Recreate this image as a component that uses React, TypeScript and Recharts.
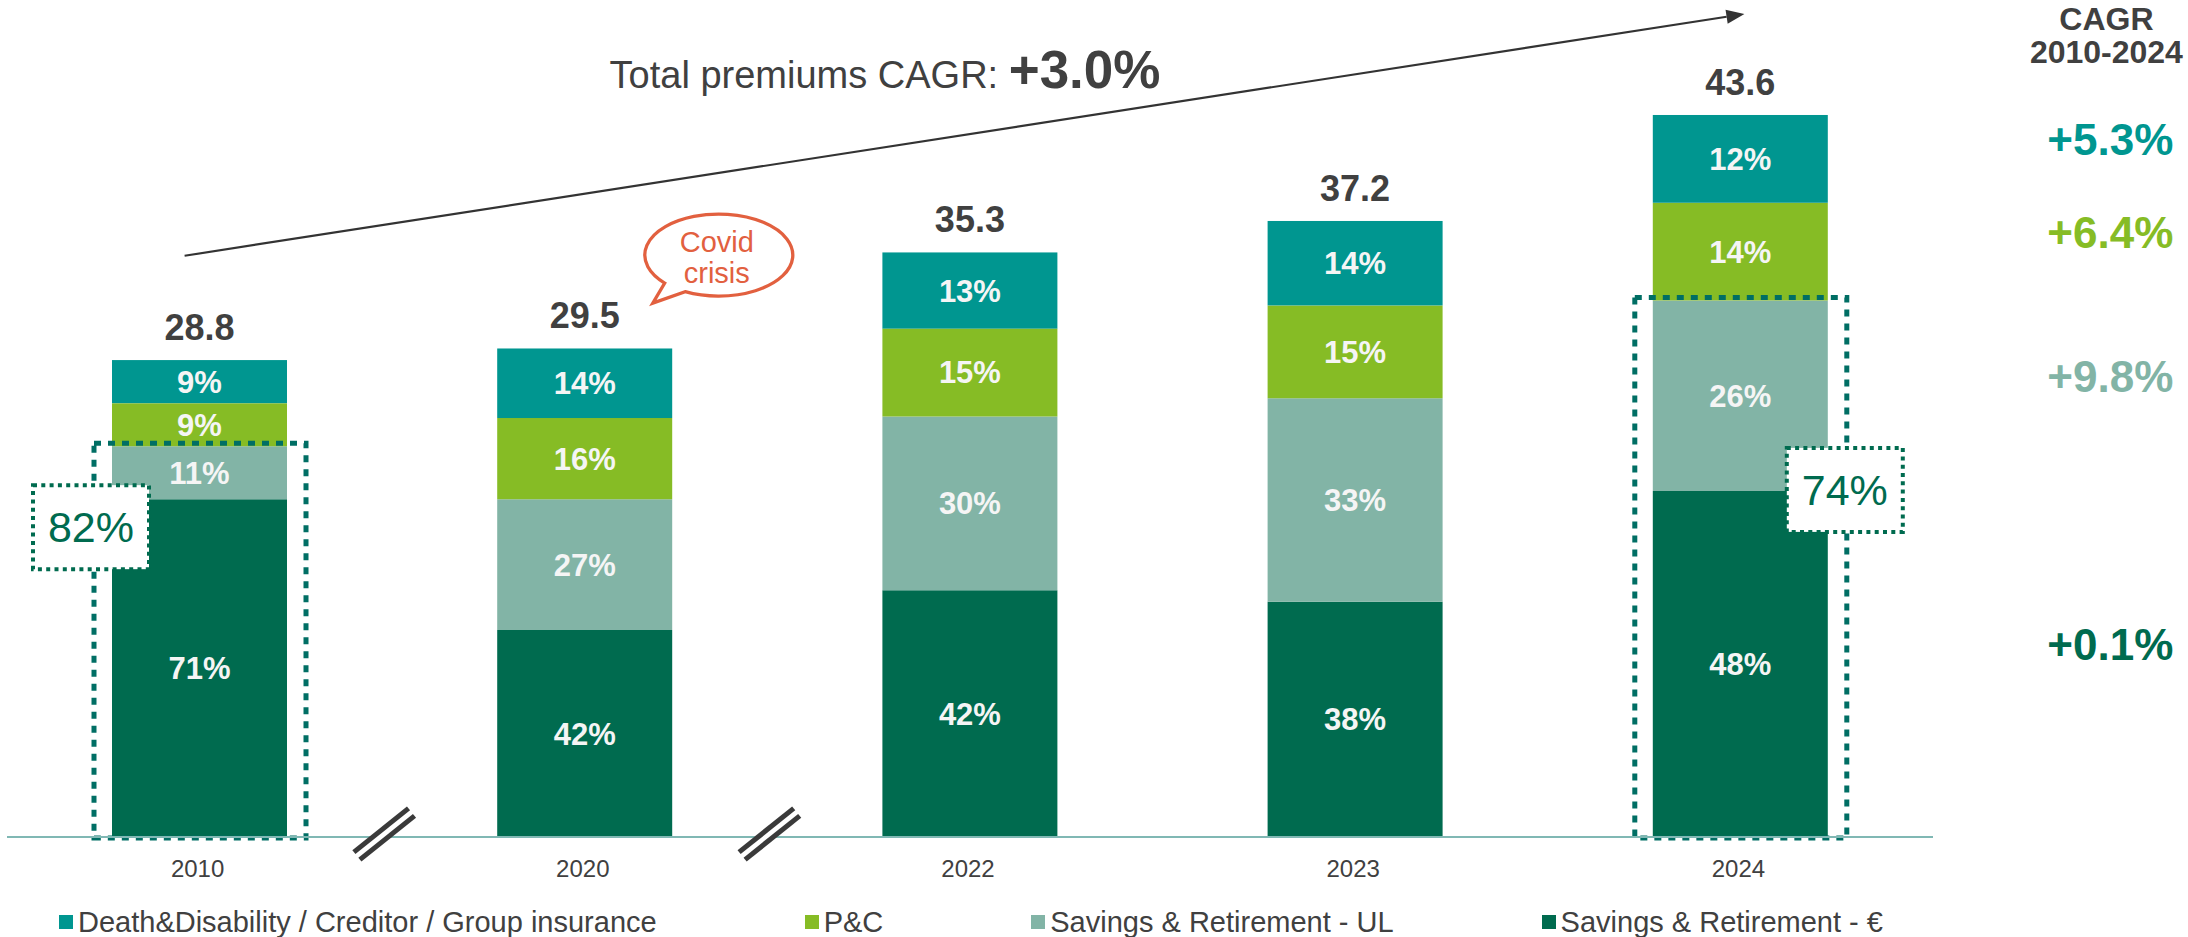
import React from 'react';
import { BarChart, Bar, XAxis, YAxis, LabelList, Legend, ReferenceLine, ReferenceDot } from 'recharts';

// ---------- data ----------
const categories = ['2010', '2020', '2022', '2023', '2024'];
const totals = [28.8, 29.5, 35.3, 37.2, 43.6];
const savingsEuro = [20.4, 12.5, 14.9, 14.2, 20.9];
const savingsUL = [3.2, 7.9, 10.5, 12.3, 11.5];
const pAndC = [2.6, 4.9, 5.3, 5.6, 5.9];
const deathDisability = [2.6, 4.2, 4.6, 5.1, 5.3];

const euroShare = ['71%', '42%', '42%', '38%', '48%'];
const ulShare = ['11%', '27%', '30%', '33%', '26%'];
const pcShare = ['9%', '16%', '15%', '15%', '14%'];
const ddShare = ['9%', '14%', '13%', '14%', '12%'];

const savingsCombinedShare = ['82%', '', '', '', '74%'];

const cagrEuro = '+0.1%';
const cagrUL = '+9.8%';
const cagrPC = '+6.4%';
const cagrDD = '+5.3%';
const totalCagr = '+3.0%';

const seriesNames = {
  dd: 'Death&Disability / Creditor / Group insurance',
  pc: 'P&C',
  ul: 'Savings & Retirement - UL',
  eur: 'Savings & Retirement - €',
};
const legendOrder = [seriesNames.dd, seriesNames.pc, seriesNames.ul, seriesNames.eur];

const data = categories.map((year, i) => ({
  year,
  eur: savingsEuro[i],
  ul: savingsUL[i],
  pc: pAndC[i],
  dd: deathDisability[i],
  total: totals[i],
  eurPct: euroShare[i],
  ulPct: ulShare[i],
  pcPct: pcShare[i],
  ddPct: ddShare[i],
  combined: savingsCombinedShare[i],
}));

// ---------- styles ----------
const FONT = '"Liberation Sans", Arial, Helvetica, sans-serif';
const C_DD = '#009690';
const C_PC = '#86BC25';
const C_UL = '#82B4A6';
const C_EUR = '#006B4F';
const C_TEXT = '#404040';
const C_BOX = '#006E64';
const C_COVID = '#E2603F';

const W = 2188;
const H = 937;
const MARGIN = { top: 9, right: 255, bottom: 0, left: 7 };
const BAND = (W - MARGIN.left - MARGIN.right) / categories.length;

// placement of the dotted "savings share" call-outs
const calloutPlacement: Record<number, { dx: (x: number, w: number) => number; dy: number }> = {
  0: { dx: (x) => x - 79, dy: 28 },
  4: { dx: (x, w) => x + w - 41, dy: -1 },
};

function DDShape(props: any) {
  const { x, y, width, height, fill, payload, index } = props;
  const unit = payload && payload.dd ? height / payload.dd : 0;
  const ulTop = y + height + payload.pc * unit;
  const eurTop = ulTop + payload.ul * unit;
  const base = eurTop + payload.eur * unit;
  const place = calloutPlacement[index];
  return (
    <g>
      <rect x={x} y={y} width={width} height={height} fill={fill} />
      {place && payload.combined ? (
        <g>
          <rect
            x={x - 18}
            y={ulTop - 3}
            width={width + 37}
            height={base - ulTop + 4}
            fill="none"
            stroke={C_BOX}
            strokeWidth={5}
            strokeDasharray="7 7"
          />
          <rect
            x={place.dx(x, width)}
            y={eurTop + place.dy - 42}
            width={116}
            height={84}
            fill="#ffffff"
            stroke={C_EUR}
            strokeWidth={4}
            strokeDasharray="4 4.3"
          />
          <text
            x={place.dx(x, width) + 58}
            y={eurTop + place.dy + 15}
            textAnchor="middle"
            fill={C_EUR}
            fontSize={43}
            fontFamily={FONT}
          >
            {payload.combined}
          </text>
        </g>
      ) : null}
    </g>
  );
}

const makeCagrLabel = (text: string, color: string) => (props: any) => {
  if (props.index !== categories.length - 1) return null;
  const vb = props.viewBox && props.viewBox.width !== undefined ? props.viewBox : props;
  const x = Number(vb.x);
  const y = Number(vb.y);
  const w = Number(vb.width);
  const h = Number(vb.height);
  return (
    <text
      x={x + w / 2 + 370}
      y={y + h / 2 - 4}
      textAnchor="middle"
      fill={color}
      fontSize={44}
      fontWeight={700}
      fontFamily={FONT}
    >
      {text}
    </text>
  );
};

function BreakMark({ cx, cy }: { cx: number; cy: number }) {
  const ux = 0.78;
  const uy = -0.625;
  const px = 0.625;
  const py = 0.78;
  const L = 35;
  const s = 4.8;
  const pts = (off: number) => ({
    x1: cx - L * ux + off * px,
    y1: cy - L * uy + off * py,
    x2: cx + L * ux + off * px,
    y2: cy + L * uy + off * py,
  });
  const a = pts(-s);
  const b = pts(s);
  return (
    <g>
      <polygon
        points={`${a.x1},${a.y1} ${a.x2},${a.y2} ${b.x2},${b.y2} ${b.x1},${b.y1}`}
        fill="#ffffff"
      />
      <line {...a} stroke="#3A3A3A" strokeWidth={5} />
      <line {...b} stroke="#3A3A3A" strokeWidth={5} />
    </g>
  );
}

function YearTick(props: any) {
  const { x, y, payload, index } = props;
  const showBreak = index === 1 || index === 2;
  return (
    <g>
      {showBreak ? <BreakMark cx={x - BAND / 2 - 8} cy={y - 3} /> : null}
      <text x={x - 2} y={y + 40} textAnchor="middle" fill={C_TEXT} fontSize={24} fontFamily={FONT}>
        {payload.value}
      </text>
    </g>
  );
}

function ArrowShape(props: any) {
  const { x1, y1, x2, y2 } = props;
  const sx = x1 - 15;
  const sy = y1;
  const ex = x2 + 4;
  const ey = y2;
  const ang = Math.atan2(ey - sy, ex - sx);
  const len = 18;
  const half = 7;
  const bx = ex - len * Math.cos(ang);
  const by = ey - len * Math.sin(ang);
  const nx = -Math.sin(ang);
  const ny = Math.cos(ang);
  return (
    <g>
      <line x1={sx} y1={sy} x2={bx} y2={by} stroke="#333333" strokeWidth={2.2} />
      <polygon
        points={`${ex},${ey} ${bx + nx * half},${by + ny * half} ${bx - nx * half},${by - ny * half}`}
        fill="#333333"
      />
      <text x={x1 + 410} y={y2 + 74} fill={C_TEXT} fontFamily={FONT}>
        <tspan fontSize={38}>Total premiums CAGR: </tspan>
        <tspan fontSize={53} fontWeight={700}>{totalCagr}</tspan>
      </text>
      <text x={x2 + 366} y={30} textAnchor="middle" fill={C_TEXT} fontSize={32} fontWeight={700} fontFamily={FONT}>
        CAGR
      </text>
      <text x={x2 + 366} y={63} textAnchor="middle" fill={C_TEXT} fontSize={32} fontWeight={700} fontFamily={FONT}>
        2010-2024
      </text>
    </g>
  );
}

function BubbleShape(props: any) {
  const { cx, cy } = props;
  const ex = cx + 134;
  const ey = cy;
  const rx = 74;
  const ry = 41;
  const p = (deg: number) => {
    const t = (deg * Math.PI) / 180;
    return { x: ex + rx * Math.cos(t), y: ey + ry * Math.sin(t) };
  };
  const a = p(117);
  const b = p(137);
  const tip = { x: ex - 66, y: ey + 48 };
  const d = `M ${a.x} ${a.y} A ${rx} ${ry} 0 1 0 ${b.x} ${b.y} L ${tip.x} ${tip.y} Z`;
  return (
    <g>
      <path d={d} fill="#ffffff" stroke={C_COVID} strokeWidth={3.3} strokeLinejoin="miter" />
      <text x={ex - 2} y={ey - 3} textAnchor="middle" fill={C_COVID} fontSize={29} fontFamily={FONT}>
        Covid
      </text>
      <text x={ex - 2} y={ey + 28} textAnchor="middle" fill={C_COVID} fontSize={29} fontFamily={FONT}>
        crisis
      </text>
    </g>
  );
}

function LegendContent(props: any) {
  const items = [...(props.payload || [])].sort(
    (a: any, b: any) => legendOrder.indexOf(String(a.value)) - legendOrder.indexOf(String(b.value))
  );
  return (
    <div
      style={{
        display: 'flex',
        justifyContent: 'flex-start',
        paddingLeft: 52,
        height: 30,
        lineHeight: '30px',
        fontFamily: FONT,
        fontSize: 29,
        color: C_TEXT,
        whiteSpace: 'nowrap',
      }}
    >
      {items.map((it: any, i: number) => (
        <div key={String(it.value)} style={{ display: 'flex', alignItems: 'center', marginLeft: i === 0 ? 0 : 148 }}>
          <span style={{ display: 'inline-block', width: 14, height: 14, background: it.color, marginRight: 5 }} />
          <span>{it.value}</span>
        </div>
      ))}
    </div>
  );
}

const inLabel = {
  position: 'center' as const,
  fill: '#F5F5F5',
  fontSize: 31,
  fontWeight: 700,
  fontFamily: FONT,
};

export default function App() {
  return (
    <div style={{ position: 'absolute', left: 0, top: 0, width: W, height: H, background: '#ffffff' }}>
      <BarChart width={W} height={H} data={data} margin={MARGIN} barSize={175}>
        <XAxis
          dataKey="year"
          axisLine={{ stroke: '#80B8B4', strokeWidth: 2 }}
          tickLine={false}
          tickSize={0}
          tickMargin={0}
          height={70}
          interval={0}
          tick={<YearTick />}
        />
        <YAxis hide domain={[0, 50]} type="number" />
        <Legend verticalAlign="bottom" content={(p: any) => <LegendContent {...p} />} />
        <Bar dataKey="eur" name={seriesNames.eur} stackId="a" fill={C_EUR} isAnimationActive={false}>
          <LabelList dataKey="eurPct" {...inLabel} />
          <LabelList dataKey="eur" content={makeCagrLabel(cagrEuro, C_EUR)} />
        </Bar>
        <Bar dataKey="ul" name={seriesNames.ul} stackId="a" fill={C_UL} isAnimationActive={false}>
          <LabelList dataKey="ulPct" {...inLabel} />
          <LabelList dataKey="ul" content={makeCagrLabel(cagrUL, C_UL)} />
        </Bar>
        <Bar dataKey="pc" name={seriesNames.pc} stackId="a" fill={C_PC} isAnimationActive={false}>
          <LabelList dataKey="pcPct" {...inLabel} />
          <LabelList dataKey="pc" content={makeCagrLabel(cagrPC, C_PC)} />
        </Bar>
        <Bar
          dataKey="dd"
          name={seriesNames.dd}
          stackId="a"
          fill={C_DD}
          isAnimationActive={false}
          shape={(p: any) => <DDShape {...p} />}
        >
          <LabelList dataKey="ddPct" {...inLabel} />
          <LabelList dataKey="dd" content={makeCagrLabel(cagrDD, C_DD)} />
          <LabelList
            dataKey="total"
            position="top"
            offset={20}
            fill={C_TEXT}
            fontSize={36}
            fontWeight={700}
            fontFamily={FONT}
            formatter={(v: any) => Number(v).toFixed(1)}
          />
        </Bar>
        <ReferenceLine
          segment={[
            { x: '2010', y: 35.1 },
            { x: '2024', y: 49.7 },
          ]}
          ifOverflow="visible"
          shape={(p: any) => <ArrowShape {...p} />}
        />
        <ReferenceDot x="2020" y={35.14} r={1} ifOverflow="visible" shape={(p: any) => <BubbleShape {...p} />} />
      </BarChart>
    </div>
  );
}
